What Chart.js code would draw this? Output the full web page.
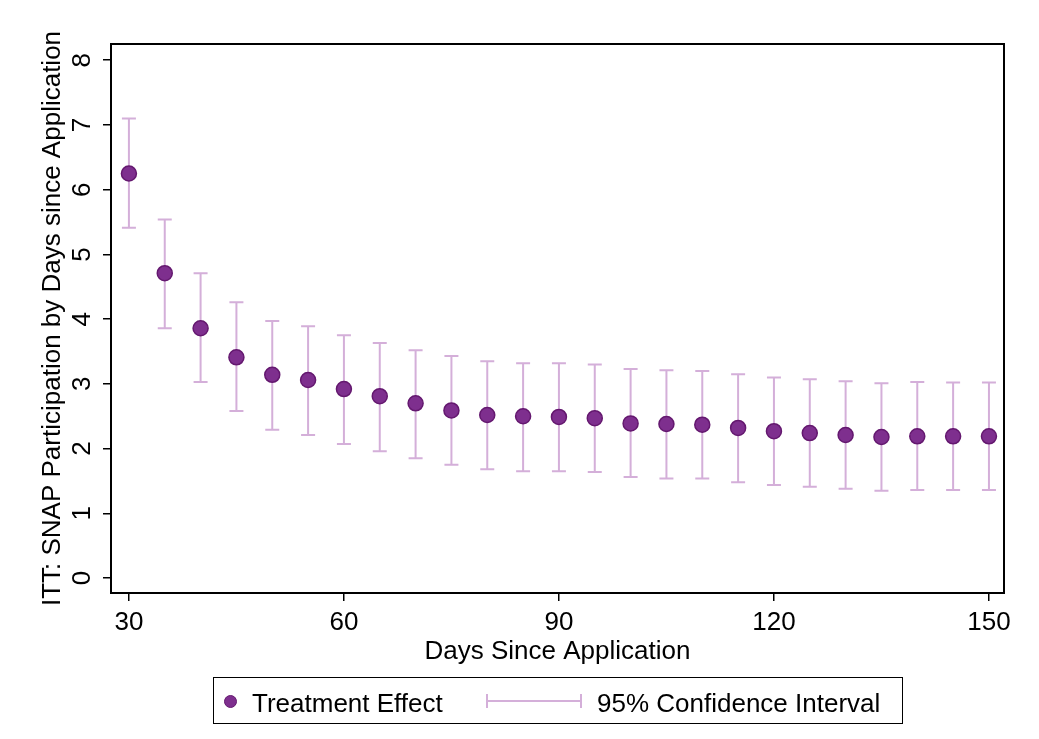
<!DOCTYPE html>
<html lang="en">
<head>
    <meta charset="UTF-8">
    <title>ITT: SNAP Participation by Days since Application</title>
    <script src="https://cdn.jsdelivr.net/npm/chart.js"></script>
    <style>
        body { margin: 0; background: #fff; font-family: "Liberation Sans", Arial, sans-serif; }
        .wrap { position: relative; width: 1039px; height: 739px; }
        #legendBox {
            position: absolute; left: 213px; top: 677px; width: 690px; height: 47px;
            border: 1.5px solid #000; box-sizing: border-box;
            font-size: 26px; color: #000;
        }
        #legendBox .dot {
            position: absolute; left: 10px; top: 17px; width: 13px; height: 13px;
            border-radius: 50%; background: #7e2f8e; border: 1px solid #64186f; box-sizing: border-box;
        }
        #legendBox .ci {
            position: absolute; left: 272px; top: 22px; width: 96px; height: 2px; background: #d4afd9;
        }
        #legendBox .ci:before, #legendBox .ci:after {
            content: ''; position: absolute; top: -6px; width: 2px; height: 14px; background: #d4afd9;
        }
        #legendBox .ci:before { left: 0; }
        #legendBox .ci:after { right: 0; }
        #legendBox .lbl { position: absolute; top: 11px; line-height: 28px; }
    </style>
</head>
<body>
<div class="wrap">
    <canvas id="chart" width="1039" height="739"></canvas>
    <div id="legendBox">
        <span class="dot"></span><span class="lbl" style="left:38px">Treatment Effect</span>
        <span class="ci"></span><span class="lbl" style="left:383px">95% Confidence Interval</span>
    </div>
</div>
<script>
// days since application
const days = [30, 35, 40, 45, 50, 55, 60, 65, 70, 75, 80, 85, 90, 95, 100, 105, 110, 115, 120, 125, 130, 135, 140, 145, 150];
// point estimates
const effect = [6.25, 4.71, 3.86, 3.41, 3.14, 3.06, 2.92, 2.81, 2.70, 2.59, 2.52, 2.50, 2.49, 2.47, 2.39, 2.38, 2.37, 2.32, 2.27, 2.24, 2.21, 2.18, 2.19, 2.19, 2.19];
// 95% CI bounds
const ciHigh = [7.10, 5.54, 4.71, 4.26, 3.97, 3.89, 3.75, 3.63, 3.52, 3.43, 3.35, 3.32, 3.32, 3.30, 3.23, 3.21, 3.20, 3.15, 3.10, 3.07, 3.04, 3.01, 3.03, 3.02, 3.02];
const ciLow = [5.41, 3.86, 3.03, 2.58, 2.29, 2.21, 2.07, 1.96, 1.85, 1.75, 1.68, 1.65, 1.65, 1.64, 1.56, 1.54, 1.54, 1.48, 1.44, 1.41, 1.38, 1.35, 1.36, 1.36, 1.36];
const xTicks = [30, 60, 90, 120, 150];
const yTicks = [0, 1, 2, 3, 4, 5, 6, 7, 8];

const FONT = '"Liberation Sans", Arial, sans-serif';

const errorBars = {
    id: 'errorBars',
    beforeDatasetsDraw(chart) {
        const { ctx, scales: { x, y } } = chart;
        ctx.save();
        ctx.strokeStyle = '#d4afd9';
        ctx.lineWidth = 2;
        days.forEach((d, i) => {
            const px = x.getPixelForValue(d);
            const top = y.getPixelForValue(ciHigh[i]);
            const bot = y.getPixelForValue(ciLow[i]);
            ctx.beginPath();
            ctx.moveTo(px, top); ctx.lineTo(px, bot);
            ctx.moveTo(px - 7, top); ctx.lineTo(px + 7, top);
            ctx.moveTo(px - 7, bot); ctx.lineTo(px + 7, bot);
            ctx.stroke();
        });
        ctx.restore();
    }
};

const frame = {
    id: 'frame',
    afterDraw(chart) {
        const { ctx, chartArea: a, scales: { y } } = chart;
        ctx.save();
        ctx.strokeStyle = '#000';
        ctx.lineWidth = 2;
        ctx.strokeRect(a.left, a.top, a.right - a.left, a.bottom - a.top);
        // vertical y tick labels, Stata style
        ctx.fillStyle = '#000';
        ctx.font = '26px ' + FONT;
        ctx.textAlign = 'center';
        ctx.textBaseline = 'middle';
        y.ticks.forEach(t => {
            ctx.save();
            ctx.translate(a.left - 28, y.getPixelForValue(t.value));
            ctx.rotate(-Math.PI / 2);
            ctx.fillText(String(t.value), 0, 0);
            ctx.restore();
        });
        ctx.restore();
    }
};

new Chart(document.getElementById('chart'), {
    type: 'scatter',
    data: {
        datasets: [{
            label: 'Treatment Effect',
            data: days.map((d, i) => ({ x: d, y: effect[i] })),
            backgroundColor: '#7e2f8e',
            borderColor: '#64186f',
            borderWidth: 1.5,
            pointRadius: 7.5
        }]
    },
    options: {
        responsive: false,
        animation: false,
        layout: { padding: { top: 44, right: 35, left: 0, bottom: 0 } },
        plugins: { legend: { display: false }, tooltip: { enabled: false } },
        scales: {
            x: {
                type: 'linear',
                min: 27.5,
                max: 152.1,
                afterBuildTicks: s => { s.ticks = xTicks.map(v => ({ value: v })); },
                afterFit: s => { s.height = 146; },
                grid: { drawOnChartArea: false, drawTicks: true, tickLength: 8, color: '#000', lineWidth: 1.5 },
                border: { display: false },
                ticks: { color: '#000', font: { family: FONT, size: 26 }, padding: 6, maxRotation: 0 },
                title: {
                    display: true, text: 'Days Since Application', color: '#000',
                    font: { family: FONT, size: 26 }, padding: { top: 0, bottom: 72 }
                }
            },
            y: {
                min: -0.23,
                max: 8.25,
                afterBuildTicks: s => { s.ticks = yTicks.map(v => ({ value: v })); },
                afterFit: s => { s.width = 111; },
                grid: { drawOnChartArea: false, drawTicks: true, tickLength: 8, color: '#000', lineWidth: 1.5 },
                border: { display: false },
                ticks: { display: false },
                title: {
                    display: true, text: 'ITT: SNAP Participation by Days since Application', color: '#000',
                    font: { family: FONT, size: 26 }, padding: { top: 37, bottom: 0 }
                }
            }
        }
    },
    plugins: [errorBars, frame]
});
</script>
</body>
</html>
